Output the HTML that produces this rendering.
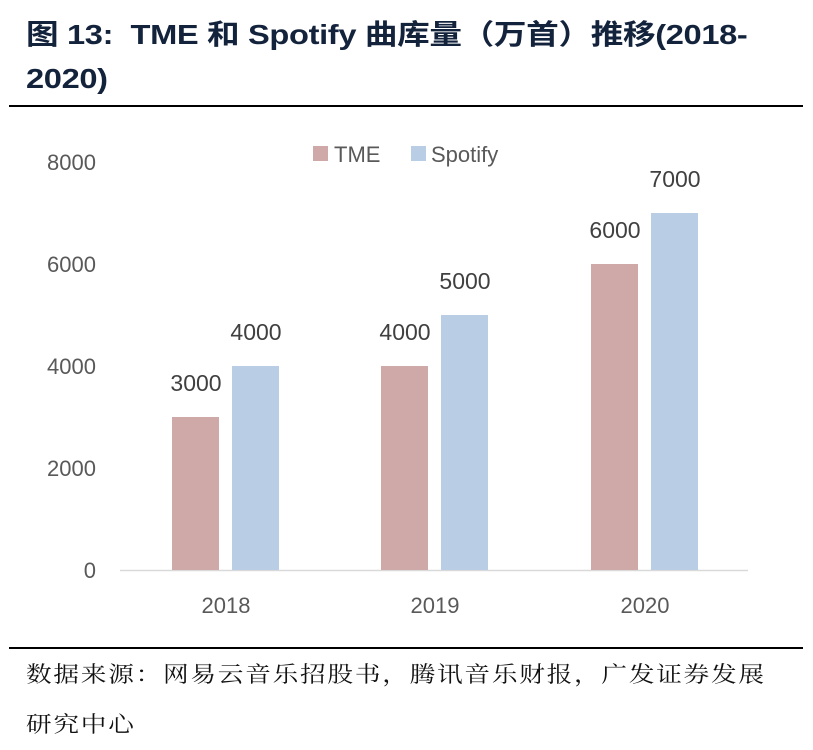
<!DOCTYPE html>
<html><head><meta charset="utf-8"><style>
body{margin:0;width:813px;height:750px;background:#fff;position:relative;overflow:hidden}
.t{position:absolute;left:26px;font:bold 28px "Liberation Sans","Noto Sans CJK SC",sans-serif;color:#14233c;white-space:nowrap;letter-spacing:-0.3px;transform-origin:0 0;transform:scaleX(1.165)}
.s{position:absolute;left:26px;font:22px "Liberation Serif","Noto Serif CJK SC",serif;color:#111;white-space:nowrap;letter-spacing:1.5px;transform-origin:0 0;transform:scaleX(1.166)}
</style></head><body>
<div class="t" style="top:13px">图 13:&nbsp; TME 和 Spotify 曲库量（万首）推移(2018-</div>
<div class="t" style="top:63px">2020)</div>
<div style="position:absolute;left:9px;top:105px;width:794px;height:2px;background:#000"></div>
<svg style="position:absolute;left:0;top:0" width="813" height="750" font-family="Liberation Sans, sans-serif" font-size="22" fill="#595959">
<g text-anchor="end">
<text x="96" y="170">8000</text><text x="96" y="272">6000</text><text x="96" y="374">4000</text><text x="96" y="476">2000</text><text x="96" y="578">0</text>
</g>
<line x1="120" y1="570.5" x2="748" y2="570.5" stroke="#d9d9d9" stroke-width="1.5"/>
<g fill="#cfa9a8"><rect x="172" y="417" width="47" height="153"/><rect x="381" y="366" width="47" height="204"/><rect x="591" y="264" width="47" height="306"/></g>
<g fill="#b9cde5"><rect x="232" y="366" width="47" height="204"/><rect x="441" y="315" width="47" height="255"/><rect x="651" y="213" width="47" height="357"/></g>
<g text-anchor="middle" fill="#404040" font-size="23">
<text x="196" y="391">3000</text><text x="256" y="340">4000</text>
<text x="405" y="340">4000</text><text x="465" y="289">5000</text>
<text x="615" y="238">6000</text><text x="675" y="187">7000</text>
</g>
<g text-anchor="middle"><text x="226" y="613">2018</text><text x="435" y="613">2019</text><text x="645" y="613">2020</text></g>
<rect x="313" y="146" width="15" height="15" fill="#cfa9a8"/><text x="334" y="162">TME</text>
<rect x="411" y="146" width="15" height="15" fill="#b9cde5"/><text x="431" y="162">Spotify</text>
</svg>
<div style="position:absolute;left:9px;top:647px;width:794px;height:2px;background:#000"></div>
<div class="s" style="top:658px">数据来源：网易云音乐招股书，腾讯音乐财报，广发证券发展</div>
<div class="s" style="top:708px">研究中心</div>
</body></html>
